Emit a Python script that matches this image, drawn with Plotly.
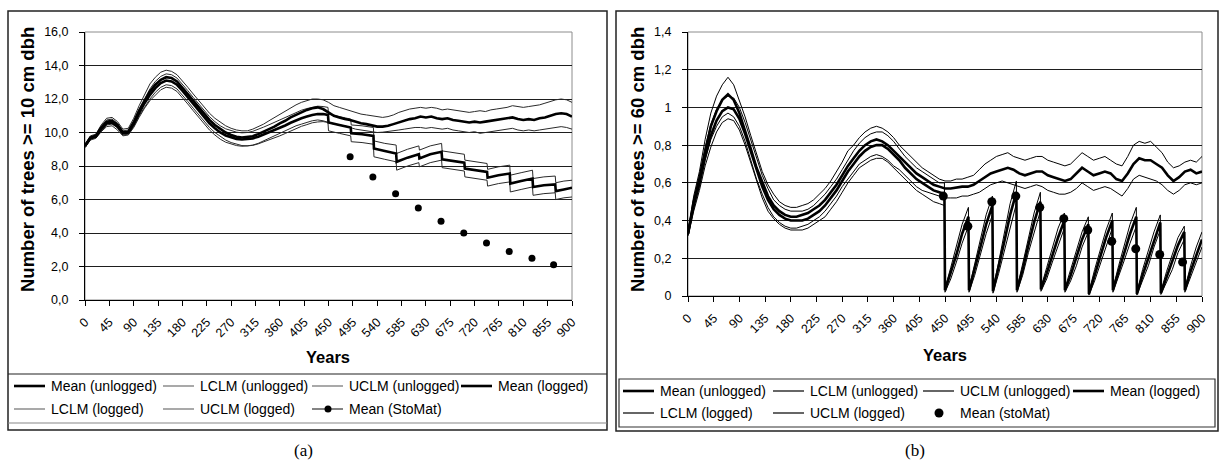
import plotly.graph_objects as go

W, H = 1222, 464

# ---------------- Panel (a) data: trees >= 10 cm dbh ----------------
A_YEARS = list(range(0, 901, 10))
A_MEAN_UNL = [9.2, 9.7, 9.8, 10.3, 10.65, 10.7, 10.45, 10.0, 10.05, 10.6,
              11.3, 11.9, 12.45, 12.85, 13.15, 13.3, 13.25, 13.05, 12.7, 12.3,
              11.9, 11.5, 11.1, 10.75, 10.45, 10.2, 10.0, 9.85, 9.75, 9.7,
              9.72, 9.78, 9.9, 10.05, 10.2, 10.35, 10.55, 10.7, 10.9, 11.05,
              11.2, 11.35, 11.45, 11.5, 11.4, 11.2, 11.0, 10.9, 10.8, 10.75,
              10.65, 10.55, 10.5, 10.42, 10.35, 10.35, 10.4, 10.5, 10.6, 10.7,
              10.8, 10.85, 10.95, 10.9, 10.95, 10.85, 10.8, 10.85, 10.75, 10.7,
              10.65, 10.6, 10.65, 10.6, 10.65, 10.7, 10.75, 10.8, 10.85, 10.9,
              10.8, 10.75, 10.8, 10.75, 10.85, 10.9, 11.0, 11.1, 11.15, 11.1, 10.95]
A_UCLM_UNL = [9.3, 9.8, 9.9, 10.45, 10.85, 10.9, 10.65, 10.2, 10.25, 10.85,
              11.6, 12.3, 12.9, 13.3, 13.6, 13.72, 13.65, 13.45, 13.1, 12.7,
              12.3, 11.9, 11.5, 11.15, 10.85, 10.6, 10.4, 10.25, 10.15, 10.1,
              10.1, 10.2, 10.35, 10.5, 10.7, 10.9, 11.1, 11.3, 11.5, 11.65,
              11.8, 11.9, 12.0, 12.0, 11.95, 11.8, 11.6, 11.5, 11.4, 11.3,
              11.2, 11.1, 11.05, 11.0, 10.95, 10.9, 10.95, 11.05, 11.2, 11.3,
              11.4, 11.45, 11.5, 11.45, 11.5, 11.45, 11.35, 11.4, 11.35, 11.3,
              11.25, 11.2, 11.25, 11.3, 11.25, 11.35, 11.4, 11.45, 11.5, 11.6,
              11.55, 11.5, 11.55, 11.6, 11.65, 11.75, 11.85, 11.95, 12.0, 11.95, 11.8]
A_LCLM_UNL = [9.1, 9.6, 9.7, 10.1, 10.45, 10.5, 10.3, 9.85, 9.9, 10.35,
              11.0, 11.5, 12.0, 12.4, 12.7, 12.85, 12.8, 12.6, 12.25, 11.85,
              11.45, 11.05, 10.65, 10.3, 10.0, 9.75, 9.55, 9.4, 9.3, 9.22,
              9.2, 9.25, 9.35, 9.5, 9.65, 9.8, 9.95, 10.1, 10.25, 10.4,
              10.5, 10.6, 10.7, 10.75, 10.7, 10.6, 10.5, 10.45, 10.4, 10.3,
              10.2, 10.15, 10.1, 10.05, 10.0, 10.02, 10.05, 10.1, 10.15, 10.2,
              10.25, 10.3, 10.3, 10.25, 10.3, 10.25, 10.2, 10.25, 10.15, 10.1,
              10.05, 10.0, 10.05, 9.95, 10.0, 10.05, 10.1, 10.15, 10.2, 10.25,
              10.15, 10.1, 10.15, 10.1, 10.15, 10.2, 10.25, 10.3, 10.35, 10.3, 10.2]

# logged scenario before the first cut (0..440 step 10, then 449)
A_PRE_YEARS = list(range(0, 441, 10)) + [449]
A_MEAN_LOG_PRE = [9.2, 9.65, 9.75, 10.2, 10.55, 10.6, 10.35, 9.95, 10.0, 10.5,
                  11.15, 11.75, 12.25, 12.65, 12.95, 13.1, 13.05, 12.85, 12.5, 12.1,
                  11.7, 11.3, 10.9, 10.55, 10.25, 10.0, 9.82, 9.7, 9.62, 9.58,
                  9.6, 9.65, 9.75, 9.88, 10.0, 10.12, 10.28, 10.42, 10.58, 10.72,
                  10.85, 10.95, 11.05, 11.1, 11.1, 11.05]
A_UCLM_LOG_PRE = [9.3, 9.75, 9.85, 10.35, 10.75, 10.8, 10.55, 10.1, 10.15, 10.7,
                  11.4, 12.05, 12.6, 13.05, 13.35, 13.5, 13.45, 13.25, 12.9, 12.5,
                  12.1, 11.7, 11.3, 10.95, 10.65, 10.4, 10.22, 10.1, 10.02, 9.98,
                  10.0, 10.07, 10.18, 10.32, 10.46, 10.6, 10.76, 10.9, 11.06, 11.2,
                  11.33, 11.43, 11.52, 11.57, 11.55, 11.5]
A_LCLM_LOG_PRE = [9.1, 9.55, 9.65, 10.05, 10.35, 10.4, 10.15, 9.8, 9.85, 10.3,
                  10.9, 11.45, 11.9, 12.25, 12.55, 12.7, 12.65, 12.45, 12.1, 11.7,
                  11.3, 10.9, 10.5, 10.15, 9.85, 9.6, 9.42, 9.3, 9.22, 9.18,
                  9.2, 9.23, 9.32, 9.44, 9.54, 9.64, 9.8, 9.94, 10.1, 10.24,
                  10.37, 10.47, 10.58, 10.63, 10.65, 10.6]

# cutting years (same cycle in both panels)
CUT_YEARS = [450, 492, 534, 576, 618, 660, 702, 744, 786, 828, 870]
END_YEAR = 900

# panel (a) logged, per cutting cycle: value after cut, mid-cycle, before next cut
A_MEAN_LOG_SEG = [[10.6, 10.45, 10.3], [9.95, 9.9, 9.8], [9.05, 8.9, 8.75],
                  [8.25, 8.5, 8.7], [8.45, 8.7, 8.85], [8.4, 8.3, 8.2],
                  [7.85, 7.75, 7.65], [7.3, 7.45, 7.55], [6.95, 7.1, 7.25],
                  [6.75, 6.85, 6.9], [6.5, 6.6, 6.7]]
A_UCLM_LOG_SEG = [[11.1, 10.95, 10.8], [10.45, 10.4, 10.3], [9.5, 9.35, 9.25],
                  [8.75, 9.0, 9.2], [8.95, 9.2, 9.35], [8.9, 8.8, 8.7],
                  [8.35, 8.25, 8.15], [7.8, 7.95, 8.05], [7.45, 7.6, 7.75],
                  [7.25, 7.35, 7.4], [7.0, 7.1, 7.15]]
A_LCLM_LOG_SEG = [[10.1, 9.95, 9.8], [9.45, 9.4, 9.3], [8.55, 8.4, 8.25],
                  [7.75, 8.0, 8.2], [7.95, 8.2, 8.35], [7.9, 7.8, 7.7],
                  [7.35, 7.25, 7.15], [6.8, 6.95, 7.05], [6.45, 6.6, 6.75],
                  [6.25, 6.35, 6.4], [6.0, 6.1, 6.15]]

A_STOMAT_YEARS = [490, 532, 574, 616, 658, 700, 742, 784, 826, 866]
A_STOMAT = [8.55, 7.35, 6.35, 5.5, 4.7, 4.0, 3.4, 2.9, 2.5, 2.1]

A_YTICKS = [0, 2, 4, 6, 8, 10, 12, 14, 16]
A_YTEXT = ["0,0", "2,0", "4,0", "6,0", "8,0", "10,0", "12,0", "14,0", "16,0"]

# ---------------- Panel (b) data: trees >= 60 cm dbh ----------------
B_YEARS = list(range(0, 901, 10))
B_MEAN_UNL = [0.33, 0.5, 0.62, 0.77, 0.9, 0.98, 1.04, 1.07, 1.04, 0.97,
              0.88, 0.78, 0.68, 0.6, 0.53, 0.48, 0.45, 0.43, 0.42, 0.42,
              0.43, 0.44, 0.46, 0.48, 0.51, 0.55, 0.59, 0.64, 0.69, 0.73,
              0.77, 0.8, 0.82, 0.83, 0.82, 0.8, 0.77, 0.74, 0.71, 0.68,
              0.65, 0.63, 0.61, 0.59, 0.58, 0.57, 0.57, 0.575, 0.58, 0.58,
              0.59, 0.61, 0.63, 0.65, 0.66, 0.67, 0.68, 0.67, 0.65, 0.64,
              0.65, 0.66, 0.66, 0.64, 0.63, 0.62, 0.61, 0.62, 0.65, 0.68,
              0.66, 0.64, 0.65, 0.66, 0.65, 0.62, 0.61, 0.65, 0.7, 0.73,
              0.72, 0.72, 0.7, 0.68, 0.64, 0.61, 0.63, 0.66, 0.67, 0.65, 0.66]
B_UCLM_UNL = [0.34, 0.53, 0.66, 0.83, 0.97, 1.06, 1.12, 1.16, 1.12, 1.04,
              0.95, 0.85, 0.75, 0.66, 0.59, 0.54, 0.5, 0.48, 0.47, 0.47,
              0.48, 0.49, 0.51, 0.54, 0.57, 0.61, 0.66, 0.71, 0.77, 0.8,
              0.84, 0.87, 0.89, 0.9, 0.89, 0.87, 0.84, 0.8, 0.77, 0.74,
              0.71, 0.68, 0.66, 0.64, 0.62, 0.61, 0.61, 0.62, 0.62, 0.63,
              0.64, 0.67, 0.7, 0.72, 0.74, 0.75, 0.76, 0.74, 0.73, 0.72,
              0.73, 0.74, 0.74, 0.72, 0.71, 0.7, 0.69, 0.7, 0.73, 0.76,
              0.74, 0.72, 0.73, 0.74, 0.72, 0.7, 0.69, 0.74, 0.8, 0.82,
              0.81, 0.82, 0.79, 0.76, 0.71, 0.68, 0.69, 0.71, 0.72, 0.71, 0.74]
B_LCLM_UNL = [0.32, 0.47, 0.58, 0.72, 0.83, 0.9, 0.95, 0.97, 0.95, 0.9,
              0.82, 0.72, 0.62, 0.54, 0.47, 0.42, 0.39, 0.37, 0.36, 0.36,
              0.37, 0.38, 0.4, 0.42, 0.45, 0.49, 0.53, 0.58, 0.62, 0.66,
              0.7, 0.72, 0.74, 0.75, 0.74, 0.72, 0.69, 0.67, 0.64, 0.61,
              0.58, 0.56, 0.55, 0.54, 0.53, 0.52, 0.52, 0.52, 0.53, 0.53,
              0.54, 0.55, 0.57, 0.59, 0.6, 0.61, 0.6, 0.59, 0.58, 0.57,
              0.58, 0.59, 0.58, 0.56, 0.55, 0.54, 0.54, 0.55, 0.57, 0.6,
              0.58, 0.56, 0.57, 0.58, 0.57, 0.55, 0.53, 0.57, 0.62, 0.64,
              0.63, 0.62, 0.61, 0.59, 0.56, 0.54, 0.56, 0.59, 0.6, 0.59, 0.6]

B_PRE_YEARS = list(range(0, 441, 10)) + [449]
B_MEAN_LOG_PRE = [0.33, 0.48, 0.6, 0.74, 0.85, 0.93, 0.98, 1.0, 0.99, 0.94,
                  0.86, 0.77, 0.67, 0.58, 0.51, 0.46, 0.43, 0.41, 0.4, 0.4,
                  0.4, 0.41, 0.43, 0.45, 0.48, 0.52, 0.56, 0.61, 0.66, 0.7,
                  0.74, 0.77, 0.79, 0.8, 0.8, 0.78, 0.75, 0.72, 0.68, 0.65,
                  0.62, 0.6, 0.58, 0.56, 0.55, 0.54]
B_UCLM_LOG_PRE = [0.34, 0.51, 0.64, 0.79, 0.91, 0.99, 1.04, 1.06, 1.05, 1.0,
                  0.92, 0.83, 0.73, 0.64, 0.57, 0.51, 0.48, 0.46, 0.45, 0.45,
                  0.45, 0.46, 0.48, 0.51, 0.54, 0.58, 0.62, 0.67, 0.72, 0.77,
                  0.81, 0.84, 0.86, 0.87, 0.87, 0.85, 0.82, 0.78, 0.74, 0.71,
                  0.68, 0.66, 0.64, 0.62, 0.6, 0.6]
B_LCLM_LOG_PRE = [0.32, 0.45, 0.56, 0.69, 0.79, 0.87, 0.92, 0.94, 0.93, 0.88,
                  0.8, 0.71, 0.61, 0.52, 0.45, 0.41, 0.38, 0.36, 0.35, 0.35,
                  0.35, 0.36, 0.38, 0.4, 0.42, 0.46, 0.5, 0.55, 0.6, 0.64,
                  0.68, 0.7, 0.72, 0.73, 0.73, 0.71, 0.68, 0.65, 0.62, 0.59,
                  0.56, 0.54, 0.52, 0.5, 0.49, 0.48]

# panel (b) logged, per cycle: after cut, +10, +20, +30 yrs, just before next cut
B_MEAN_LOG_SEG = [[0.03, 0.12, 0.22, 0.33, 0.42], [0.03, 0.14, 0.26, 0.38, 0.48],
                  [0.025, 0.15, 0.29, 0.43, 0.55], [0.03, 0.14, 0.27, 0.39, 0.50],
                  [0.035, 0.12, 0.22, 0.31, 0.40], [0.03, 0.11, 0.2, 0.3, 0.38],
                  [0.01, 0.11, 0.21, 0.31, 0.40], [0.03, 0.13, 0.23, 0.33, 0.42],
                  [0.01, 0.11, 0.2, 0.3, 0.39], [0.015, 0.1, 0.18, 0.27, 0.34],
                  [0.03, 0.13, 0.22, 0.3]]
B_UCLM_LOG_SEG = [[0.04, 0.15, 0.26, 0.38, 0.47], [0.04, 0.17, 0.3, 0.43, 0.53],
                  [0.035, 0.18, 0.34, 0.49, 0.61], [0.04, 0.17, 0.31, 0.44, 0.55],
                  [0.045, 0.15, 0.26, 0.36, 0.44], [0.04, 0.14, 0.24, 0.34, 0.42],
                  [0.02, 0.14, 0.25, 0.35, 0.44], [0.04, 0.16, 0.27, 0.38, 0.47],
                  [0.02, 0.14, 0.24, 0.34, 0.43], [0.025, 0.13, 0.22, 0.31, 0.37],
                  [0.04, 0.16, 0.26, 0.34]]
B_LCLM_LOG_SEG = [[0.02, 0.09, 0.18, 0.28, 0.37], [0.02, 0.11, 0.22, 0.33, 0.43],
                  [0.015, 0.12, 0.24, 0.37, 0.49], [0.02, 0.11, 0.23, 0.34, 0.45],
                  [0.025, 0.09, 0.18, 0.27, 0.36], [0.02, 0.08, 0.16, 0.26, 0.34],
                  [0.005, 0.08, 0.17, 0.27, 0.36], [0.02, 0.1, 0.19, 0.28, 0.37],
                  [0.005, 0.08, 0.16, 0.26, 0.35], [0.008, 0.07, 0.14, 0.23, 0.3],
                  [0.02, 0.1, 0.18, 0.26]]

B_STOMAT_YEARS = [447, 490, 532, 574, 616, 658, 700, 742, 784, 826, 866]
B_STOMAT = [0.53, 0.37, 0.50, 0.53, 0.47, 0.41, 0.35, 0.29, 0.25, 0.22, 0.18]

B_YTICKS = [0, 0.2, 0.4, 0.6, 0.8, 1.0, 1.2, 1.4]
B_YTEXT = ["0", "0,2", "0,4", "0,6", "0,8", "1", "1,2", "1,4"]

X_TICKS = list(range(0, 901, 45))

LEGEND_LABELS_A = ["Mean (unlogged)", "LCLM (unlogged)", "UCLM (unlogged)", "Mean (logged)",
                   "LCLM (logged)", "UCLM (logged)", "Mean (StoMat)"]
LEGEND_LABELS_B = ["Mean (unlogged)", "LCLM (unlogged)", "UCLM (unlogged)", "Mean (logged)",
                   "LCLM (logged)", "UCLM (logged)", "Mean (stoMat)"]


# ---------------- helpers ----------------
def px(x):
    return x / W


def py(y):
    return 1 - y / H


def seg_years_a():
    xs = []
    for i, d in enumerate(CUT_YEARS):
        nxt = CUT_YEARS[i + 1] - 1 if i + 1 < len(CUT_YEARS) else END_YEAR
        xs.append([d, (d + nxt) // 2, nxt])
    return xs


def seg_years_b():
    xs = []
    for i, d in enumerate(CUT_YEARS):
        if i + 1 < len(CUT_YEARS):
            xs.append([d, d + 10, d + 20, d + 30, CUT_YEARS[i + 1] - 1])
        else:
            xs.append([d, d + 10, d + 20, END_YEAR])
    return xs


def build_logged(pre_x, pre_y, seg_x, seg_y):
    xs = list(pre_x)
    ys = list(pre_y)
    for sx, sy in zip(seg_x, seg_y):
        xs += sx
        ys += sy
    return xs, ys


fig = go.Figure()


def add_line(x, y, xa, ya, width, color):
    fig.add_trace(go.Scatter(x=x, y=y, mode="lines", xaxis=xa, yaxis=ya,
                             line=dict(color=color, width=width),
                             showlegend=False, hoverinfo="skip"))


THIN_A = "#2a2a2a"
THIN_B = "#000000"
THICK = 2.6

# panel (a)
sxa = seg_years_a()
for pre, seg in [(A_LCLM_LOG_PRE, A_LCLM_LOG_SEG), (A_UCLM_LOG_PRE, A_UCLM_LOG_SEG)]:
    x, y = build_logged(A_PRE_YEARS, pre, sxa, seg)
    add_line(x, y, "x", "y", 1, THIN_A)
add_line(A_YEARS, A_LCLM_UNL, "x", "y", 1, THIN_A)
add_line(A_YEARS, A_UCLM_UNL, "x", "y", 1, THIN_A)
x, y = build_logged(A_PRE_YEARS, A_MEAN_LOG_PRE, sxa, A_MEAN_LOG_SEG)
add_line(x, y, "x", "y", THICK, "#000000")
add_line(A_YEARS, A_MEAN_UNL, "x", "y", THICK, "#000000")
fig.add_trace(go.Scatter(x=A_STOMAT_YEARS, y=A_STOMAT, mode="markers", xaxis="x", yaxis="y",
                         marker=dict(color="#000000", size=7), showlegend=False, hoverinfo="skip"))

# panel (b)
sxb = seg_years_b()
add_line(B_YEARS, B_LCLM_UNL, "x2", "y2", 1, THIN_B)
add_line(B_YEARS, B_UCLM_UNL, "x2", "y2", 1, THIN_B)
for pre, seg in [(B_LCLM_LOG_PRE, B_LCLM_LOG_SEG), (B_UCLM_LOG_PRE, B_UCLM_LOG_SEG)]:
    x, y = build_logged(B_PRE_YEARS, pre, sxb, seg)
    add_line(x, y, "x2", "y2", 1, THIN_B)
add_line(B_YEARS, B_MEAN_UNL, "x2", "y2", THICK, "#000000")
x, y = build_logged(B_PRE_YEARS, B_MEAN_LOG_PRE, sxb, B_MEAN_LOG_SEG)
add_line(x, y, "x2", "y2", THICK, "#000000")
fig.add_trace(go.Scatter(x=B_STOMAT_YEARS, y=B_STOMAT, mode="markers", xaxis="x2", yaxis="y2",
                         marker=dict(color="#000000", size=9), showlegend=False, hoverinfo="skip"))

FONT = "Liberation Sans, Arial, sans-serif"

xcommon = dict(range=[0, 900], tickmode="array", tickvals=X_TICKS, ticktext=[str(v) for v in X_TICKS],
               tickangle=-45, ticks="outside", ticklen=5, tickcolor="#000", tickwidth=1,
               showline=True, linecolor="#000", linewidth=1, showgrid=False, zeroline=False,
               automargin=False, ticklabelstandoff=4,
               tickfont=dict(family=FONT, size=12.5, color="#000"), fixedrange=True)
ycommon = dict(tickmode="array", ticks="outside", ticklen=5, tickcolor="#000", tickwidth=1,
               showline=True, linecolor="#000", linewidth=1, showgrid=True, gridcolor="#1e1e1e",
               gridwidth=1, zeroline=False, ticklabelstandoff=8, automargin=False,
               tickfont=dict(family=FONT, size=12.5, color="#000"), fixedrange=True)

fig.update_layout(
    width=W, height=H, margin=dict(l=0, r=0, t=0, b=0, pad=0, autoexpand=False),
    paper_bgcolor="white", plot_bgcolor="white", showlegend=False,
    xaxis=dict(domain=[px(85), px(572)], anchor="y", **xcommon),
    yaxis=dict(domain=[py(300), py(32)], anchor="x", range=[0, 16],
               tickvals=A_YTICKS, ticktext=A_YTEXT, **ycommon),
    xaxis2=dict(domain=[px(688), px(1202)], anchor="y2", **xcommon),
    yaxis2=dict(domain=[py(296), py(32)], anchor="x2", range=[0, 1.4],
                tickvals=B_YTICKS, ticktext=B_YTEXT, **ycommon),
)

shapes = []
ann = []


def rect(x0, y0, x1, y1, color="#000", width=1, layer="above"):
    shapes.append(dict(type="rect", xref="paper", yref="paper", x0=px(x0), x1=px(x1),
                       y0=py(y1), y1=py(y0), line=dict(color=color, width=width), layer=layer))


def hline(x0, x1, y, color="#000", width=1):
    shapes.append(dict(type="line", xref="paper", yref="paper", x0=px(x0), x1=px(x1),
                       y0=py(y), y1=py(y), line=dict(color=color, width=width)))


def text(x, y, s, size=14, anchor="left", weight="normal", family=FONT, angle=0):
    ann.append(dict(xref="paper", yref="paper", x=px(x), y=py(y), text=s, showarrow=False,
                    xanchor=anchor, yanchor="middle", textangle=angle,
                    font=dict(family=family, size=size, color="#000", weight=weight)))


# plot-area borders (grey, Excel style)
rect(85, 32, 572, 300, color="#8c8c8c", width=1, layer="below")
rect(688, 32, 1202, 296, color="#8c8c8c", width=1, layer="below")

# panel (a) frame + legend box
rect(8, 11, 607, 430, color="#222", width=1.5)
hline(8, 607, 374, color="#222", width=1.2)
hline(8, 607, 423, color="#888", width=1.2)

# panel (b) frame + legend box
rect(616, 11, 1218, 431, color="#222", width=1.5)
rect(619, 379, 1215, 427, color="#333", width=1.2)

# legends
def legend(cols, rows, labels, thin_color, dot_size, stomat_line):
    styles = ["thick", "thin", "thin", "thick", "thin", "thin", "dot"]
    for i, (lab, st) in enumerate(zip(labels, styles)):
        cx = cols[i % 4]
        ry = rows[i // 4]
        if st == "thick":
            hline(cx, cx + 31, ry, color="#000", width=2.6)
        elif st == "thin":
            hline(cx, cx + 31, ry, color=thin_color, width=1.2)
        else:
            if stomat_line:
                hline(cx, cx + 31, ry, color="#333", width=1.2)
            shapes.append(dict(type="circle", xref="paper", yref="paper",
                               x0=px(cx + 16 - dot_size / 2), x1=px(cx + 16 + dot_size / 2),
                               y0=py(ry + dot_size / 2), y1=py(ry - dot_size / 2),
                               fillcolor="#000", line=dict(color="#000", width=0)))
        text(cx + 35, ry, lab, size=14)


legend([14, 163, 312, 461], [386, 409], LEGEND_LABELS_A, "#707070", 7, True)
legend([623, 773, 923, 1073], [391, 413], LEGEND_LABELS_B, "#000", 9, False)

# axis titles
text(27, 160, "Number of trees >= 10 cm dbh", size=18.5, anchor="center", weight="bold", angle=-90)
text(637, 160, "Number of trees >= 60 cm dbh", size=18.5, anchor="center", weight="bold", angle=-90)
text(328, 357, "Years", size=16.5, anchor="center", weight="bold")
text(945, 355, "Years", size=16.5, anchor="center", weight="bold")

# panel labels
text(303, 450, "(a)", size=17, anchor="center", family="Liberation Serif, Times New Roman, serif")
text(915, 450, "(b)", size=17, anchor="center", family="Liberation Serif, Times New Roman, serif")

fig.update_layout(shapes=shapes, annotations=ann)
fig.write_html("out.html", config={"displayModeBar": False},
               post_script="document.body.style.margin='0px';document.body.style.overflow='hidden';")
